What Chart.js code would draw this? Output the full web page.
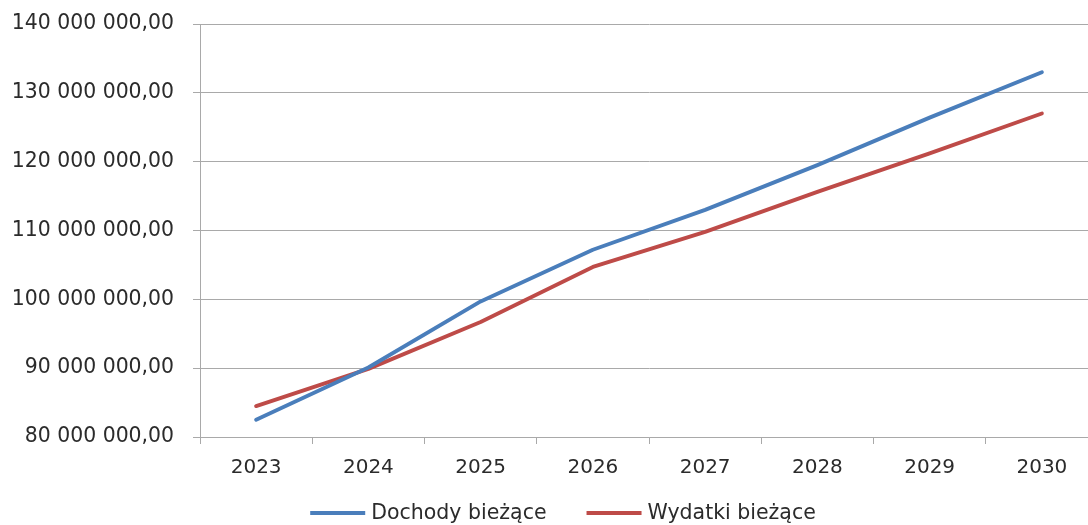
<!DOCTYPE html>
<html>
<head>
<meta charset="utf-8">
<script src="https://cdn.jsdelivr.net/npm/chart.js@4/dist/chart.umd.min.js"></script>
<style>
  html, body { margin: 0; padding: 0; background: #fff; overflow: hidden; }
  #wrap { width: 1100px; height: 525px; }
</style>
</head>
<body>
<div id="wrap"><canvas id="c" width="1100" height="525"></canvas></div>
<script>
// Budget forecast: current revenue vs current expenditure
const years = ['2023', '2024', '2025', '2026', '2027', '2028', '2029', '2030'];
const dochodyBiezace = [82500000, 90100000, 99700000, 107200000, 113000000, 119500000, 126400000, 133000000];
const wydatkiBiezace = [84500000, 89900000, 96700000, 104700000, 109800000, 115600000, 121200000, 127000000];
const yTickValues = [80000000, 90000000, 100000000, 110000000, 120000000, 130000000, 140000000];

const seriesNames = ['Dochody bieżące', 'Wydatki bieżące'];
const seriesColors = ['#4A7EBB', '#BE4B48'];

const FONT = 'DejaVu Sans';
const TEXT = '#2b2b2b';
const GRID = '#a9a9a9';

function formatPL(v) {
  const intPart = Math.round(v).toString().replace(/\B(?=(\d{3})+(?!\d))/g, ' ');
  return intPart + ',00';
}

// Legend drawn below the axis, lines followed by series names
const bottomLegend = {
  id: 'bottomLegend',
  afterDraw(chart) {
    const ctx = chart.ctx;
    ctx.save();
    ctx.font = '20.5px "' + FONT + '"';
    const lineLen = 55, gap = 6, spacing = 40, centerX = 563, y = 513;
    const items = chart.data.datasets.map(ds => ({
      label: ds.label, color: ds.borderColor, w: ctx.measureText(ds.label).width
    }));
    let total = 0;
    items.forEach((it, i) => { total += lineLen + gap + it.w + (i ? spacing : 0); });
    let x = centerX - total / 2;
    items.forEach((it, i) => {
      if (i) x += spacing;
      ctx.strokeStyle = it.color;
      ctx.lineWidth = 4;
      ctx.lineCap = 'butt';
      ctx.beginPath();
      ctx.moveTo(x, y);
      ctx.lineTo(x + lineLen, y);
      ctx.stroke();
      x += lineLen + gap;
      ctx.fillStyle = TEXT;
      ctx.textBaseline = 'middle';
      ctx.textAlign = 'left';
      ctx.fillText(it.label, x, y + 1);
      x += it.w;
    });
    ctx.restore();
  }
};

new Chart(document.getElementById('c'), {
  type: 'line',
  data: {
    labels: years,
    datasets: [
      { label: seriesNames[0], data: dochodyBiezace, borderColor: seriesColors[0], backgroundColor: seriesColors[0] },
      { label: seriesNames[1], data: wydatkiBiezace, borderColor: seriesColors[1], backgroundColor: seriesColors[1] }
    ]
  },
  options: {
    responsive: false,
    animation: false,
    devicePixelRatio: 1,
    layout: { padding: { top: 24, left: 0, right: 2, bottom: 38 } },
    elements: {
      line: { borderWidth: 3.9, tension: 0, borderCapStyle: 'round', borderJoinStyle: 'round' },
      point: { radius: 0, hoverRadius: 0 }
    },
    plugins: {
      legend: { display: false },
      tooltip: { enabled: false }
    },
    scales: {
      x: {
        offset: true,
        grid: { offset: true, drawOnChartArea: false, drawTicks: true, tickLength: 7, color: GRID, lineWidth: 1 },
        border: { color: GRID, width: 1 },
        ticks: { color: TEXT, font: { family: FONT, size: 20 }, padding: 12, maxRotation: 0, autoSkip: false },
        afterFit(scale) { scale.height = 50; scale.paddingLeft = 0; scale.paddingRight = 0; }
      },
      y: {
        min: 80000000,
        max: 140000000,
        afterBuildTicks(scale) { scale.ticks = yTickValues.map(v => ({ value: v })); },
        grid: { color: GRID, lineWidth: 1, tickLength: 7, drawTicks: true },
        border: { color: GRID, width: 1 },
        ticks: { color: TEXT, font: { family: FONT, size: 20.4 }, padding: 19, callback: v => formatPL(v) },
        afterFit(scale) { scale.width = 200; scale.paddingTop = 0; scale.paddingBottom = 0; }
      }
    }
  },
  plugins: [bottomLegend]
});
</script>
</body>
</html>
